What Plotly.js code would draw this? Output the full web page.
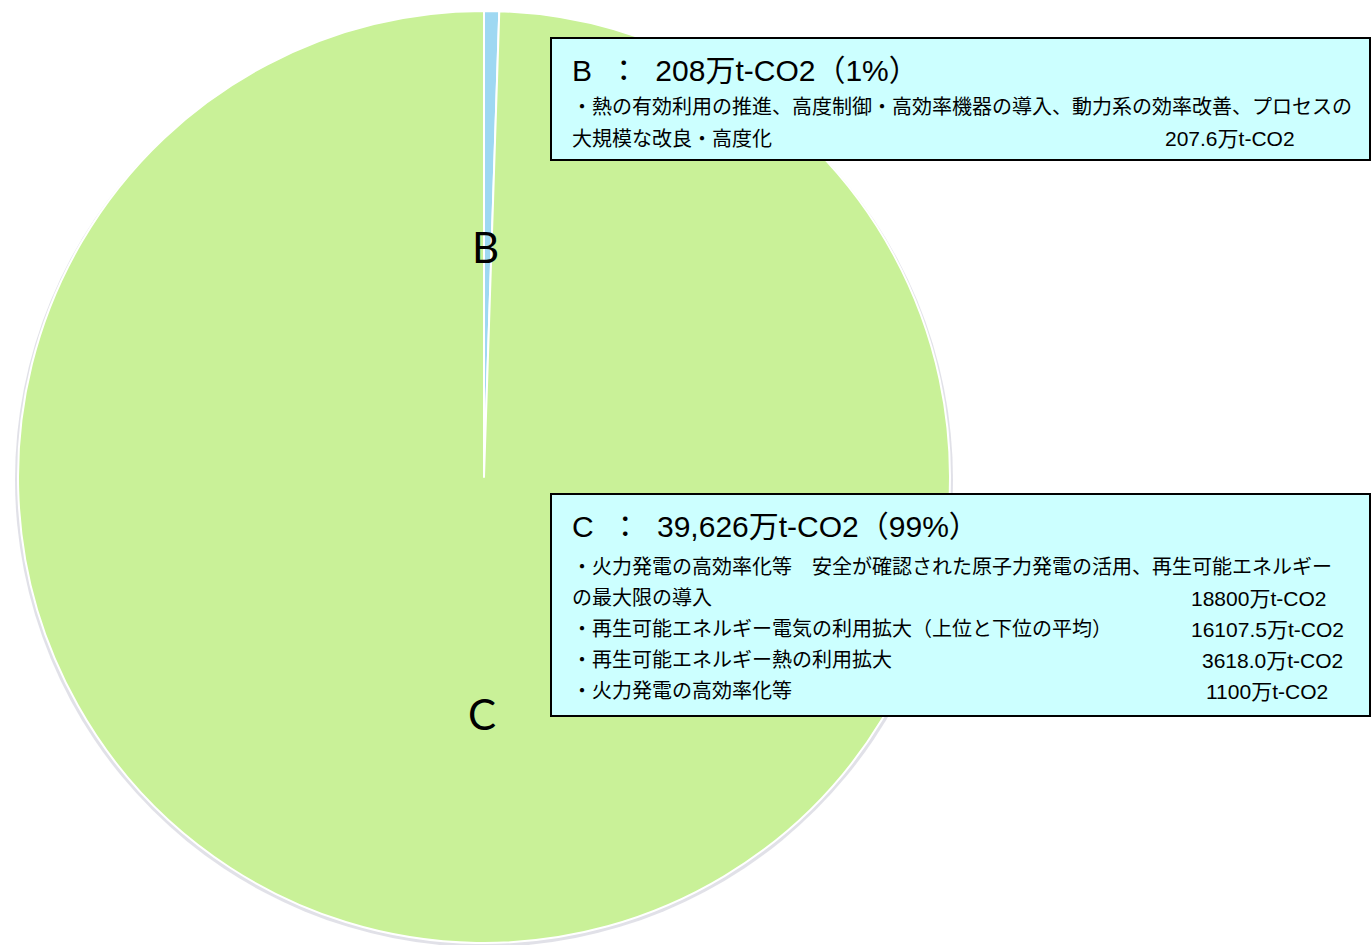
<!DOCTYPE html>
<html>
<head>
<meta charset="utf-8">
<script src="https://cdn.plot.ly/plotly-3.0.1.min.js"></script>
<style>html,body{margin:0;padding:0;background:#fff;}#chart{width:1371px;height:945px;}</style>
</head>
<body>
<div id="chart"></div>
<script>
// ---- data ----
const categories = ['B', 'C'];
const values = [208, 39626];          // 万t-CO2
const sliceColors = ['#9ED8F2', '#C9F198'];

const boxBTitle = 'B\u00A0\u00A0：\u00A0\u00A0208万t-CO2（1%）';
const boxBLines = [
  '・熱の有効利用の推進、高度制御・高効率機器の導入、動力系の効率改善、プロセスの',
  '大規模な改良・高度化'
];
const boxBValues = ['', '207.6万t-CO2'];

const boxCTitle = 'C\u00A0\u00A0：\u00A0\u00A039,626万t-CO2（99%）';
const boxCLines = [
  '・火力発電の高効率化等　安全が確認された原子力発電の活用、再生可能エネルギー',
  'の最大限の導入',
  '・再生可能エネルギー電気の利用拡大（上位と下位の平均）',
  '・再生可能エネルギー熱の利用拡大',
  '・火力発電の高効率化等'
];
const boxCValues = ['', '18800万t-CO2', '16107.5万t-CO2', '3618.0万t-CO2', '1100万t-CO2'];

// ---- layout helpers ----
const W = 1371, H = 945;
const px = x => x / W;
const py = y => 1 - y / H;
const JFONT = 'Liberation Sans, Noto Sans CJK JP, sans-serif';

const annotations = [];
function addText(text, x, y, size, anchor) {
  annotations.push({
    text: text, xref: 'paper', yref: 'paper', x: px(x), y: py(y),
    xanchor: anchor || 'left', yanchor: 'middle', showarrow: false,
    font: {family: JFONT, size: size, color: '#000'}
  });
}

// slice labels
annotations.push({text: categories[0], xref: 'paper', yref: 'paper', x: px(485), y: py(247),
  xanchor: 'center', yanchor: 'middle', showarrow: false,
  font: {family: 'Lato, Open Sans, sans-serif', size: 42, color: '#000'}});
annotations.push({text: categories[1], xref: 'paper', yref: 'paper', x: px(482), y: py(714),
  xanchor: 'center', yanchor: 'middle', showarrow: false,
  font: {family: 'Lato, Open Sans, sans-serif', size: 42, color: '#000'}});

// box B
addText(boxBTitle, 570, 70, 30);
const bY = [107, 139];
boxBLines.forEach((t, i) => addText(t, 570, bY[i], 20));
const bVX = [0, 1163];
boxBValues.forEach((t, i) => { if (t) addText(t, bVX[i], bY[i], 21); });

// box C
addText(boxCTitle, 570, 526, 30);
const cY = [567, 598, 629, 660, 691];
boxCLines.forEach((t, i) => addText(t, 570, cY[i], 20));
const cVX = [0, 1189, 1189, 1200, 1204];
boxCValues.forEach((t, i) => { if (t) addText(t, cVX[i], cY[i], 21); });

const cx = 484, cy = 477, r = 466;

const shapes = [
  // soft shadow behind the pie
  {type: 'circle', xref: 'paper', yref: 'paper', layer: 'below',
   x0: px(cx - r - 3), x1: px(cx + r + 3), y0: py(cy + r + 4), y1: py(cy - r + 1),
   fillcolor: 'rgba(170,170,190,0.35)', line: {width: 0}},
  {type: 'rect', xref: 'paper', yref: 'paper',
   x0: px(551), x1: px(1370), y0: py(160), y1: py(38),
   fillcolor: '#CCFFFF', line: {color: '#000', width: 2}},
  {type: 'rect', xref: 'paper', yref: 'paper',
   x0: px(551), x1: px(1370), y0: py(716), y1: py(494),
   fillcolor: '#CCFFFF', line: {color: '#000', width: 2}}
];

const trace = {
  type: 'pie',
  labels: categories,
  values: values,
  sort: false,
  direction: 'clockwise',
  rotation: 0,
  textinfo: 'none',
  hoverinfo: 'skip',
  marker: {colors: sliceColors, line: {color: '#FFFFFF', width: 2}},
  domain: {x: [px(cx - r), px(cx + r)], y: [py(cy + r), py(cy - r)]},
  showlegend: false
};

const layout = {
  width: W, height: H,
  margin: {l: 0, r: 0, t: 0, b: 0},
  paper_bgcolor: '#FFFFFF',
  plot_bgcolor: '#FFFFFF',
  showlegend: false,
  shapes: shapes,
  annotations: annotations
};

Plotly.newPlot('chart', [trace], layout, {displayModeBar: false, staticPlot: true});
</script>
</body>
</html>
